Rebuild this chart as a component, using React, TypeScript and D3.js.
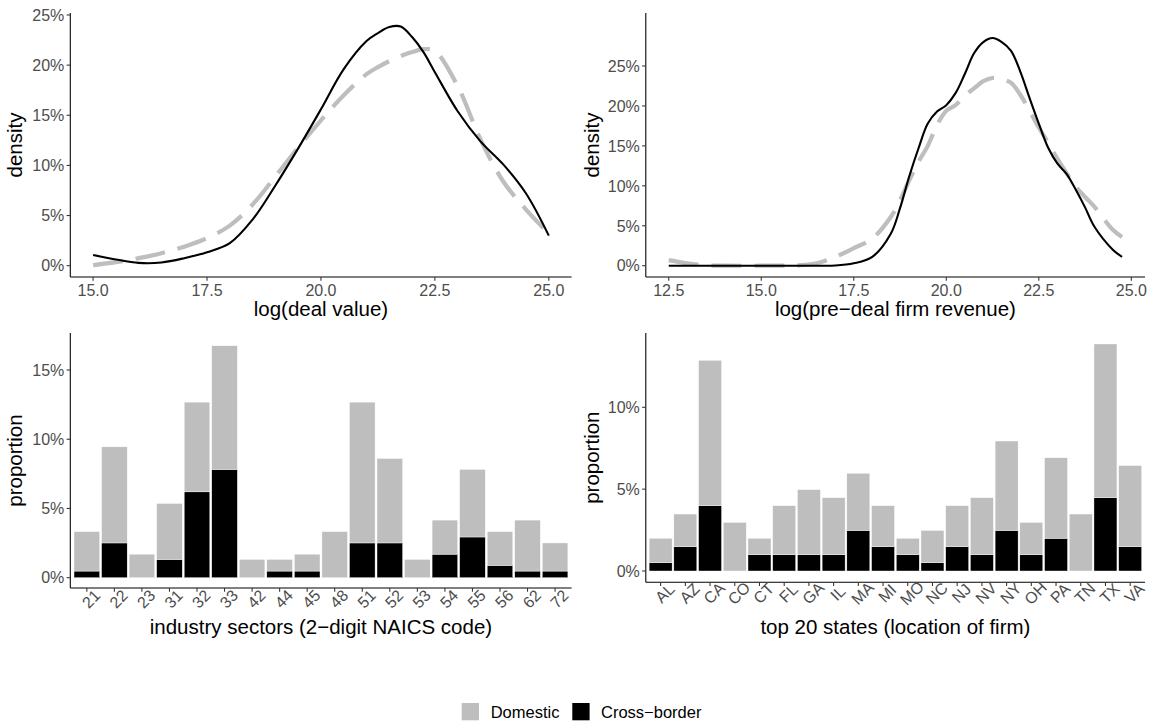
import React from "react";
import * as d3 from "d3";

// ---- data (percent units) ----
const dealX = [15, 15.5, 16, 16.5, 17, 17.5, 18, 18.5, 19, 19.5, 20, 20.5, 21, 21.25, 21.5, 21.75, 22, 22.25, 22.5, 23, 23.5, 24, 24.5, 25];
const dealCross = [1.07, 0.62, 0.28, 0.32, 0.75, 1.35, 2.25, 4.6, 8.0, 11.7, 15.6, 19.6, 22.4, 23.2, 23.8, 23.85, 22.8, 21.3, 19.3, 15.4, 12.4, 10.1, 7.2, 3.0];
const dealDomestic = [0.05, 0.35, 0.75, 1.25, 1.9, 2.75, 4.0, 6.1, 8.9, 11.8, 14.5, 17.0, 19.1, 19.8, 20.4, 20.9, 21.3, 21.6, 21.4, 17.9, 12.6, 8.4, 5.6, 3.2];

const revX = [12.5, 13, 13.5, 14, 15, 16, 16.5, 17, 17.5, 18, 18.5, 18.75, 19, 19.25, 19.5, 19.75, 20, 20.25, 20.5, 20.75, 21, 21.25, 21.5, 21.75, 22, 22.25, 22.5, 22.75, 23, 23.25, 23.5, 23.75, 24, 24.5, 24.75];
const revCross = [0, 0, 0, 0, 0, 0, 0, 0.02, 0.3, 1.1, 4.0, 7.2, 11.2, 14.7, 17.8, 19.3, 20.1, 21.6, 24.0, 26.6, 28.0, 28.5, 28.0, 26.9, 24.3, 21.0, 17.8, 14.8, 12.8, 11.5, 9.5, 7.3, 4.9, 2.0, 1.1];
const revDomestic = [0.7, 0.3, 0.05, 0, 0, 0.05, 0.3, 1.1, 2.2, 3.4, 6.1, 8.2, 10.7, 13.0, 15.0, 17.6, 19.4, 20.1, 21.3, 22.2, 23.1, 23.5, 23.3, 22.9, 21.4, 19.4, 17.3, 15.4, 13.4, 11.6, 9.9, 8.6, 7.4, 4.5, 3.6];

const naicsCodes = ["21", "22", "23", "31", "32", "33", "42", "44", "45", "48", "51", "52", "53", "54", "55", "56", "62", "72"];
const naicsDomestic = [2.85, 6.94, 1.7, 4.04, 6.48, 8.93, 1.32, 0.84, 1.22, 3.33, 10.17, 6.1, 1.32, 2.46, 4.88, 2.44, 3.68, 2.03];
const naicsCross = [0.48, 2.51, 0, 1.32, 6.2, 7.82, 0, 0.48, 0.48, 0, 2.51, 2.51, 0, 1.7, 2.94, 0.89, 0.48, 0.48];

const stateCodes = ["AL", "AZ", "CA", "CO", "CT", "FL", "GA", "IL", "MA", "MI", "MO", "NC", "NJ", "NV", "NY", "OH", "PA", "TN", "TX", "VA"];
const stateDomestic = [1.49, 1.99, 8.88, 2.97, 1.0, 2.99, 3.97, 3.48, 3.49, 2.5, 1.0, 1.97, 2.5, 3.48, 5.46, 1.97, 4.92, 3.48, 9.39, 4.95];
const stateCross = [0.51, 1.49, 3.99, 0, 1.0, 1.0, 1.0, 1.0, 2.48, 1.49, 1.0, 0.51, 1.49, 1.0, 2.48, 1.0, 2.0, 0, 4.48, 1.49];

const dealTicks = [15, 17.5, 20, 22.5, 25];
const revTicks = [12.5, 15, 17.5, 20, 22.5, 25];
const densityPctTicks = [0, 5, 10, 15, 20, 25];
const naicsPctTicks = [0, 5, 10, 15];
const statePctTicks = [0, 5, 10];

const FONT = "'Liberation Sans', Arial, Helvetica, sans-serif";
const GREY = "#BEBEBE";
const TEXT = "#4D4D4D";
const TICK = "#333333";
const TL = 3.7; // tick length

type Frame = { left: number; right: number; top: number; bottom: number };

function YAxis({ f, y, ticks }: { f: Frame; y: d3.ScaleLinear<number, number>; ticks: number[] }) {
  return (
    <g>
      <line x1={f.left} x2={f.left} y1={f.top} y2={f.bottom} stroke="black" strokeWidth={1.07} />
      {ticks.map((t) => (
        <g key={t}>
          <line x1={f.left - TL} x2={f.left} y1={y(t)} y2={y(t)} stroke={TICK} strokeWidth={1.07} />
          <text x={f.left - 6} y={y(t)} dy="0.36em" textAnchor="end" fontSize={16} fill={TEXT}>
            {t}%
          </text>
        </g>
      ))}
    </g>
  );
}

function DensityPanel(props: {
  f: Frame; xs: number[]; cross: number[]; domestic: number[];
  xDomain: [number, number]; yPx: [number, number]; xTicks: number[];
  xTitle: string; yTitleX: number;
}) {
  const { f, xs, cross, domestic } = props;
  const x = d3.scaleLinear().domain(props.xDomain).range([f.left, f.right]);
  const y = d3.scaleLinear().domain([0, 25]).range(props.yPx);
  const line = d3
    .line<number>()
    .x((_, i) => x(xs[i]))
    .y((d) => y(d))
    .curve(d3.curveCatmullRom.alpha(0.5));
  return (
    <g>
      <path d={line(domestic) || ""} fill="none" stroke={GREY} strokeWidth={4.2} strokeDasharray="30 13" />
      <path d={line(cross) || ""} fill="none" stroke="black" strokeWidth={2.1} />
      <YAxis f={f} y={y} ticks={densityPctTicks} />
      <line x1={f.left} x2={f.right} y1={f.bottom} y2={f.bottom} stroke="black" strokeWidth={1.07} />
      {props.xTicks.map((t) => (
        <g key={t}>
          <line x1={x(t)} x2={x(t)} y1={f.bottom} y2={f.bottom + TL} stroke={TICK} strokeWidth={1.07} />
          <text x={x(t)} y={f.bottom + 19} textAnchor="middle" fontSize={16} fill={TEXT}>
            {t.toFixed(1)}
          </text>
        </g>
      ))}
      <text x={(f.left + f.right) / 2} y={316} textAnchor="middle" fontSize={20.5} fill="black">
        {props.xTitle}
      </text>
      <text transform={`translate(${props.yTitleX},${(f.top + f.bottom) / 2}) rotate(-90)`} textAnchor="middle" fontSize={20.5} fill="black">
        density
      </text>
    </g>
  );
}

function BarPanel(props: {
  f: Frame; cats: string[]; domestic: number[]; cross: number[];
  yMax: number; yPx: [number, number]; ticks: number[]; xTitle: string; yTitleX: number;
}) {
  const { f, cats } = props;
  const x = d3.scaleBand().domain(cats).range([f.left, f.right]).paddingInner(0.07).paddingOuter(0.135);
  const y = d3.scaleLinear().domain([0, props.yMax]).range(props.yPx);
  const rows = cats.map((c, i) => ({ cat: c, cross: props.cross[i], domestic: props.domestic[i] }));
  const series = d3.stack<any>().keys(["cross", "domestic"])(rows);
  const fills: Record<string, string> = { cross: "black", domestic: GREY };
  return (
    <g>
      {series.map((s) => (
        <g key={s.key} fill={fills[s.key]}>
          {s.map((d, i) =>
            d[1] - d[0] > 0 ? (
              <rect key={i} x={x(d.data.cat)} width={x.bandwidth()} y={y(d[1])} height={y(d[0]) - y(d[1])} stroke="white" strokeWidth={0.4} />
            ) : null
          )}
        </g>
      ))}
      <YAxis f={f} y={y} ticks={props.ticks} />
      <line x1={f.left} x2={f.right} y1={f.bottom} y2={f.bottom} stroke="black" strokeWidth={1.07} />
      {cats.map((c) => {
        const cx = (x(c) || 0) + x.bandwidth() / 2;
        return (
          <g key={c}>
            <line x1={cx} x2={cx} y1={f.bottom} y2={f.bottom + TL} stroke={TICK} strokeWidth={1.07} />
            <text transform={`translate(${cx},${f.bottom + TL + 3}) rotate(-45)`} dy="0.72em" textAnchor="middle" fontSize={16} fill={TEXT}>
              {c}
            </text>
          </g>
        );
      })}
      <text x={(f.left + f.right) / 2} y={634} textAnchor="middle" fontSize={20.5} fill="black">
        {props.xTitle}
      </text>
      <text transform={`translate(${props.yTitleX},${(f.top + f.bottom) / 2}) rotate(-90)`} textAnchor="middle" fontSize={20.5} fill="black">
        proportion
      </text>
    </g>
  );
}

export default function App() {
  return (
    <svg width={1157} height={726} style={{ position: "absolute", left: 0, top: 0, background: "white" }} fontFamily={FONT}>
      <rect width={1157} height={726} fill="white" />
      <DensityPanel
        f={{ left: 70.3, right: 571.6, top: 13, bottom: 277 }}
        xs={dealX} cross={dealCross} domestic={dealDomestic}
        xDomain={[14.5, 25.5]} yPx={[265.7, 15]} xTicks={dealTicks}
        xTitle="log(deal value)" yTitleX={22}
      />
      <DensityPanel
        f={{ left: 645.8, right: 1145, top: 13, bottom: 277 }}
        xs={revX} cross={revCross} domestic={revDomestic}
        xDomain={[11.88, 25.37]} yPx={[265.7, 66]} xTicks={revTicks}
        xTitle="log(pre−deal firm revenue)" yTitleX={599}
      />
      <BarPanel
        f={{ left: 70.3, right: 571.6, top: 333, bottom: 588 }}
        cats={naicsCodes} domestic={naicsDomestic} cross={naicsCross}
        yMax={15} yPx={[577.7, 370]} ticks={naicsPctTicks}
        xTitle="industry sectors (2−digit NAICS code)" yTitleX={22}
      />
      <BarPanel
        f={{ left: 645.8, right: 1145, top: 333, bottom: 582.3 }}
        cats={stateCodes} domestic={stateDomestic} cross={stateCross}
        yMax={10} yPx={[571, 407.3]} ticks={statePctTicks}
        xTitle="top 20 states (location of firm)" yTitleX={599}
      />
      <g>
        <rect x={461.7} y={703} width={17.3} height={17.3} fill={GREY} />
        <text x={490.7} y={717.5} fontSize={16.5} fill="black">Domestic</text>
        <rect x={572.3} y={703} width={17.3} height={17.3} fill="black" />
        <text x={601} y={717.5} fontSize={16.5} fill="black">Cross−border</text>
      </g>
    </svg>
  );
}
